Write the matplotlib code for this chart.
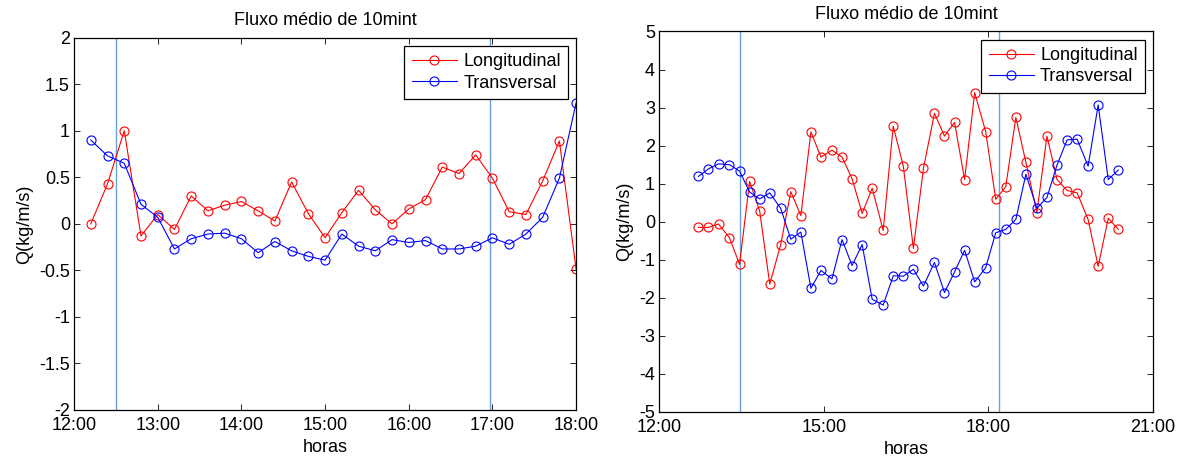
import matplotlib
matplotlib.use('Agg')
import matplotlib.pyplot as plt
from matplotlib.ticker import FuncFormatter

plt.rcParams['font.family'] = ['Liberation Sans', 'DejaVu Sans']
plt.rcParams['axes.unicode_minus'] = False

# === DATA: left panel ===
times_a = ['12:12', '12:24', '12:36', '12:48', '13:00', '13:12', '13:24', '13:36',
           '13:48', '14:00', '14:12', '14:24', '14:36', '14:48', '15:00', '15:12',
           '15:24', '15:36', '15:48', '16:00', '16:12', '16:24', '16:36', '16:48',
           '17:00', '17:12', '17:24', '17:36', '17:48', '18:00']
long_a = [0.00, 0.43, 1.00, -0.13, 0.10, -0.06, 0.30, 0.14, 0.20, 0.24,
          0.14, 0.03, 0.45, 0.11, -0.15, 0.12, 0.36, 0.15, 0.00, 0.16,
          0.26, 0.61, 0.54, 0.74, 0.49, 0.13, 0.10, 0.46, 0.89, -0.49]
trans_a = [0.90, 0.73, 0.65, 0.21, 0.07, -0.27, -0.16, -0.11, -0.10, -0.16,
           -0.31, -0.19, -0.29, -0.35, -0.39, -0.11, -0.24, -0.29, -0.17, -0.20,
           -0.18, -0.27, -0.27, -0.24, -0.15, -0.22, -0.11, 0.07, 0.49, 1.30]
marks_a = ['12:30', '16:58']

# === DATA: right panel ===
times_b = ['12:43', '12:54', '13:05', '13:17', '13:28', '13:39', '13:50', '14:01',
           '14:13', '14:24', '14:35', '14:46', '14:57', '15:09', '15:20', '15:31',
           '15:42', '15:53', '16:05', '16:16', '16:27', '16:38', '16:49', '17:01',
           '17:12', '17:23', '17:34', '17:45', '17:57', '18:08', '18:19', '18:30',
           '18:41', '18:53', '19:04', '19:15', '19:26', '19:37', '19:49', '20:00',
           '20:11', '20:22']
long_b = [-0.15, -0.15, -0.06, -0.42, -1.12, 1.06, 0.28, -1.64, -0.60, 0.79,
          0.16, 2.36, 1.70, 1.88, 1.70, 1.13, 0.22, 0.88, -0.23, 2.51,
          1.46, -0.70, 1.40, 2.85, 2.25, 2.61, 1.11, 3.39, 2.37, 0.59,
          0.92, 2.74, 1.56, 0.24, 2.25, 1.11, 0.82, 0.76, 0.06, -1.17,
          0.09, -0.20]
trans_b = [1.19, 1.39, 1.52, 1.50, 1.33, 0.78, 0.60, 0.76, 0.35, -0.46,
           -0.27, -1.75, -1.28, -1.50, -0.47, -1.15, -0.60, -2.04, -2.19, -1.42,
           -1.43, -1.25, -1.69, -1.07, -1.86, -1.32, -0.75, -1.58, -1.21, -0.29,
           -0.20, 0.06, 1.25, 0.35, 0.64, 1.49, 2.15, 2.17, 1.46, 3.07,
           1.11, 1.36]
marks_b = ['13:28', '18:12']

title = 'Fluxo médio de 10mint'
labels = ['Longitudinal', 'Transversal']


def to_hours(ts):
    out = []
    for t in ts:
        h, m = t.split(':')
        out.append(int(h) + int(m) / 60.0)
    return out


def hhmm(v, pos):
    return '%d:00' % int(round(v))


def draw_panel(ax, times, lon, tra, marks, xticks, ylim, yticks, tpad):
    x = to_hours(times)
    # reference lines (sit under the legend)
    for m in to_hours(marks):
        ax.axvline(m, color='#68a0d8', lw=1.0, zorder=1)
    ax.plot(x, lon, '-o', color='r', lw=0.8, ms=6.5, mew=0.8,
            mfc='none', label=labels[0])
    ax.plot(x, tra, '-o', color='b', lw=0.8, ms=6.5, mew=0.8,
            mfc='none', label=labels[1])
    ax.set_xlim(xticks[0], xticks[-1])
    ax.set_ylim(*ylim)
    ax.set_xticks(xticks)
    ax.set_yticks(yticks)
    ax.xaxis.set_major_formatter(FuncFormatter(hhmm))
    ax.yaxis.set_major_formatter(FuncFormatter(lambda v, p: '%g' % v))
    ax.tick_params(direction='in', length=4, width=0.6, top=True, right=True,
                   labelsize=13, pad=3)
    ax.tick_params(axis='x', pad=5)
    for s in ax.spines.values():
        s.set_linewidth(0.9)
    ax.set_title(title, fontsize=13, pad=tpad)
    ax.set_xlabel('horas', fontsize=13, labelpad=4)
    ax.set_ylabel('Q(kg/m/s)', fontsize=13, labelpad=4)
    leg = ax.legend(loc='upper right', fontsize=13, frameon=True, fancybox=False,
                    framealpha=1, edgecolor='black', borderpad=0.4,
                    labelspacing=0.25, handlelength=2.5, handletextpad=0.35,
                    borderaxespad=0.45)
    leg.get_frame().set_linewidth(0.9)
    leg.set_zorder(5)


fig = plt.figure(figsize=(11.83, 4.59), dpi=100)
ax1 = fig.add_axes([0.0626, 0.1068, 0.4244, 0.8111])
ax2 = fig.add_axes([0.5571, 0.1024, 0.4176, 0.8290])

draw_panel(ax1, times_a, long_a, trans_a, marks_a, [12, 13, 14, 15, 16, 17, 18],
           (-2, 2), [-2, -1.5, -1, -0.5, 0, 0.5, 1, 1.5, 2], 9)
draw_panel(ax2, times_b, long_b, trans_b, marks_b, [12, 15, 18, 21],
           (-5, 5), list(range(-5, 6)), 9)

fig.savefig('out.png', dpi=100)
